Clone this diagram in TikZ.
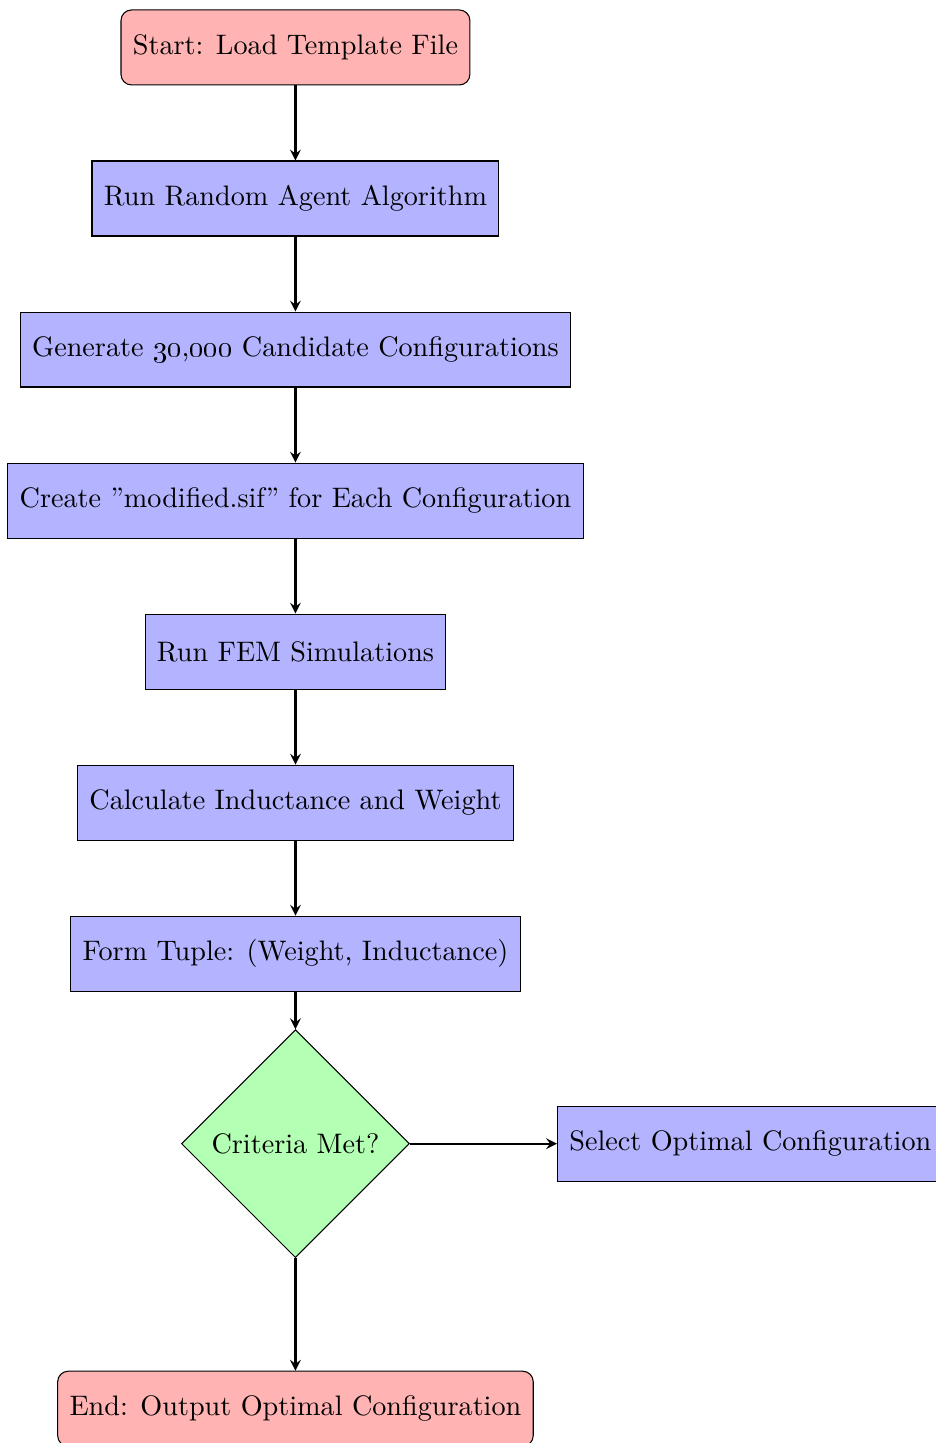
\documentclass[tikz,border=0pt]{standalone}
\usetikzlibrary{shapes.geometric,positioning}
\definecolor{termred}{RGB}{255,179,179}
\definecolor{stepblue}{RGB}{179,179,255}
\definecolor{checkgreen}{RGB}{179,255,179}

\tikzset{
  startstop/.style={rectangle, rounded corners, draw=black, fill=termred,
    minimum height=1cm, inner sep=4.5pt},
  process/.style={rectangle, draw=black, fill=stepblue,
    minimum height=1cm, inner sep=4.5pt},
  decision/.style={diamond, aspect=1, draw=black, fill=checkgreen,
    minimum size=3.04cm, inner sep=0pt},
  arrow/.style={thick, ->}
}

\begin{document}
\begin{tikzpicture}[>=stealth, node distance=1cm, font=\fontsize{10.7}{13}\selectfont]

\useasboundingbox (-3.94,0.633) rectangle (8.54,-18.61);

% ===== MAIN COLUMN =====
\node[startstop] (start) {Start: Load Template File};
\node[process, below=of start] (agent) {Run Random Agent Algorithm};
\node[process, below=of agent] (generate)
  {Generate \oldstylenums{30},\oldstylenums{000} Candidate Configurations};
\node[process, below=of generate] (modify)
  {Create ''modified.sif'' for Each Configuration};
\node[process, below=of modify] (fem) {Run FEM Simulations};
\node[process, below=of fem] (calc) {Calculate Inductance and Weight};
\node[process, below=of calc] (tuple) {Form Tuple: (Weight, Inductance)};

% ===== DECISION =====
\node[decision, below=0.5cm of tuple] (check) {Criteria Met?};
\node[process, right=1.96cm of check] (select) {Select Optimal Configuration};
\node[startstop, below=1.5cm of check] (stop)
  {End: Output Optimal Configuration};

% ===== ARROWS =====
\foreach \a/\b in {start/agent, agent/generate, generate/modify, modify/fem,
                   fem/calc, calc/tuple, tuple/check, check/select, check/stop}
  \draw[arrow] (\a) -- (\b);

\end{tikzpicture}
\end{document}
